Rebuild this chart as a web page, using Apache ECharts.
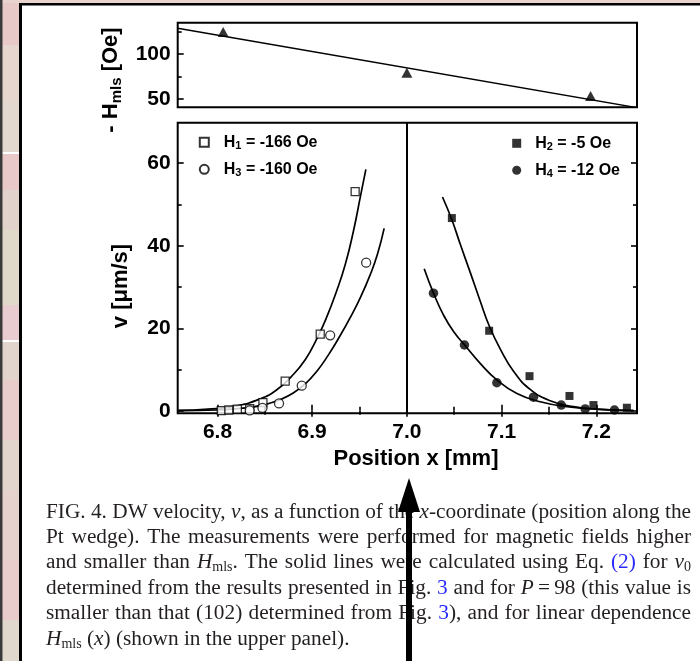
<!DOCTYPE html>
<html><head><meta charset="utf-8">
<script src="https://cdn.jsdelivr.net/npm/echarts@6/dist/echarts.min.js"></script>
<style>html,body{margin:0;padding:0;background:#fff}#c{width:700px;height:661px}</style>
</head><body><div id="c"></div>
<script>
// ---------------- data ----------------
const xRange = [6.758, 7.243];
const xTicks = [6.8, 6.9, 7.0, 7.1, 7.2];
const xMinorTicks = [6.85, 6.95, 7.05, 7.15];
const vRange = [-0.6, 69.8];
const vTicks = [0, 20, 40, 60];
const vMinorTicks = [10, 30, 50];
const hRange = [40.8, 134.8];
const hTicks = [50, 100];
const hMinorTicks = [75, 125];

// upper panel: -Hmls(x)
const hmlsX = [6.806, 7.0, 7.194];
const hmlsY = [124.5, 79.2, 53.3];
const hmlsLineX = [6.758, 7.243];
const hmlsLineY = [128.6, 40.4];

// lower panel: measured velocities
const h1X = [6.804, 6.812, 6.821, 6.834, 6.848, 6.8715, 6.9085, 6.9454];
const h1Y = [0.05, 0.2, 0.4, 0.5, 2.0, 7.2, 18.6, 53.1];
const h3X = [6.834, 6.8475, 6.865, 6.889, 6.919, 6.957];
const h3Y = [0.1, 0.7, 1.8, 6.1, 18.3, 35.9];
const h2X = [7.0475, 7.0869, 7.1295, 7.1717, 7.197, 7.2323];
const h2Y = [46.7, 19.4, 8.4, 3.6, 1.4, 0.75];
const h4X = [7.0281, 7.0608, 7.095, 7.1337, 7.163, 7.1883, 7.2192];
const h4Y = [28.5, 15.95, 6.8, 3.3, 1.4, 0.45, 0.2];

// calculated curves
const c1X = [6.7588, 6.79, 6.82, 6.845, 6.862, 6.878, 6.893, 6.905, 6.915, 6.925, 6.935, 6.944, 6.951, 6.9567];
const c1Y = [0.1, 0.4, 1.2, 2.9, 5.0, 8.3, 12.5, 17.5, 22.5, 28.5, 35.5, 44, 52, 58.5];
const c3X = [6.7588, 6.80, 6.83, 6.85, 6.866, 6.88, 6.893, 6.905, 6.917, 6.929, 6.94, 6.951, 6.961, 6.969, 6.976];
const c3Y = [0.05, 0.2, 0.7, 1.5, 2.7, 4.3, 6.6, 9.6, 13.5, 18.0, 22.5, 27.5, 32.8, 38.0, 44.2];
const c2X = [7.0376, 7.0475, 7.0563, 7.0668, 7.0774, 7.0869, 7.0985, 7.1126, 7.1302, 7.1513, 7.1759, 7.2041, 7.2393];
const c2Y = [51.8, 46.3, 40.4, 33.6, 26.6, 20.6, 15.0, 9.6, 5.2, 2.45, 1.0, 0.36, 0.03];
const c4X = [7.0183, 7.0281, 7.0387, 7.0493, 7.0608, 7.0774, 7.095, 7.1162, 7.1408, 7.169, 7.2041, 7.2393];
const c4Y = [34.4, 28.5, 23.2, 19.2, 16.0, 11.5, 7.5, 4.2, 2.2, 1.0, 0.36, 0.03];

const legendNames = ['H1', 'H3', 'H2', 'H4'];
const legendLabels = ['H{s|1} = -166 Oe', 'H{s|3} = -160 Oe', 'H{s|2} = -5 Oe', 'H{s|4} = -12 Oe'];
const dividerX = 7.0;

const captionLines = [
  'FIG. 4. DW velocity, *v*, as a function of the *x*-coordinate (position along the',
  'Pt wedge). The measurements were performed for magnetic fields higher',
  'and smaller than *H*_mls_. The solid lines were calculated using Eq. {(2)} for *v*_0_',
  'determined from the results presented in Fig. {3} and for *P*\u2009=\u200998 (this value is',
  'smaller than that (102) determined from Fig. {3}), and for linear dependence',
  '*H*_mls_ (*x*) (shown in the upper panel).'
];

// ---------------- helpers ----------------
const zip = (a, b) => a.map((v, i) => [v, b[i]]);
const SANS = '"Liberation Sans", Arial, sans-serif';
const SERIF = '"Liberation Serif", "Times New Roman", serif';
const labelFont = { fontFamily: SANS, fontWeight: 'bold', fontSize: 21, color: '#000' };

function axis(o) {
  return {
    type: 'value', gridIndex: o.grid, position: o.pos, min: o.range[0], max: o.range[1],
    axisLine: { show: false }, splitLine: { show: false },
    axisTick: { show: true, inside: true, length: o.len, customValues: o.ticks,
      lineStyle: { color: '#000', width: 1.6 } },
    axisLabel: { show: !!o.labels, customValues: o.ticks, margin: o.margin || 8,
      formatter: o.fmt, ...labelFont }
  };
}

const grids = [
  { left: 177.7, top: 22.7, width: 459.3, height: 84.6 },
  { left: 177.7, top: 122.7, width: 459.3, height: 290.6 }
].map(g => ({ ...g, show: true, borderColor: '#000', borderWidth: 2, backgroundColor: 'transparent' }));

const xAxes = [
  axis({ grid: 1, pos: 'bottom', range: xRange, ticks: xTicks, len: 6, labels: true, margin: 8, fmt: v => v.toFixed(1) }),
  axis({ grid: 1, pos: 'bottom', range: xRange, ticks: xMinorTicks, len: 4 }),
  axis({ grid: 1, pos: 'top', range: xRange, ticks: xTicks, len: 6 }),
  axis({ grid: 1, pos: 'top', range: xRange, ticks: xMinorTicks, len: 4 }),
  { type: 'value', gridIndex: 0, min: xRange[0], max: xRange[1], show: false }
];
const yAxes = [
  axis({ grid: 1, pos: 'left', range: vRange, ticks: vTicks, len: 6, labels: true, margin: 7, fmt: v => String(v) }),
  axis({ grid: 1, pos: 'left', range: vRange, ticks: vMinorTicks, len: 4 }),
  axis({ grid: 1, pos: 'right', range: vRange, ticks: vTicks, len: 6 }),
  axis({ grid: 1, pos: 'right', range: vRange, ticks: vMinorTicks, len: 4 }),
  axis({ grid: 0, pos: 'left', range: hRange, ticks: hTicks, len: 6, labels: true, margin: 7, fmt: v => String(v) }),
  axis({ grid: 0, pos: 'left', range: hRange, ticks: hMinorTicks, len: 4 })
];

const openStyle = { color: '#fff', borderColor: '#000', borderWidth: 1.3 };
const fillStyle = { color: '#000', borderColor: '#000', borderWidth: 0 };
function scatter(name, xs, ys, symbol, size, style) {
  return { type: 'scatter', name, xAxisIndex: 0, yAxisIndex: 0, data: zip(xs, ys),
    symbol, symbolSize: size, itemStyle: style, z: 5, silent: true };
}
function curve(name, xs, ys, xi, yi, w) {
  return { type: 'line', name, xAxisIndex: xi, yAxisIndex: yi, data: zip(xs, ys),
    showSymbol: false, smooth: 0.5,
    lineStyle: { color: '#000', width: w }, z: 3, silent: true };
}

const series = [
  curve('c1', c1X, c1Y, 0, 0, 1.7),
  curve('c3', c3X, c3Y, 0, 0, 1.7),
  curve('c2', c2X, c2Y, 0, 0, 1.7),
  curve('c4', c4X, c4Y, 0, 0, 1.7),
  Object.assign(scatter('H1', h1X, h1Y, 'rect', 8, openStyle), {
    markLine: { silent: true, symbol: ['none', 'none'], label: { show: false },
      lineStyle: { color: '#000', width: 2, type: 'solid' }, data: [{ xAxis: dividerX }] }
  }),
  scatter('H3', h3X, h3Y, 'circle', 9, openStyle),
  scatter('H2', h2X, h2Y, 'rect', 8, fillStyle),
  scatter('H4', h4X, h4Y, 'circle', 9.5, fillStyle),
  curve('hline', hmlsLineX, hmlsLineY, 4, 4, 1.4),
  { type: 'scatter', name: 'Hmls', xAxisIndex: 4, yAxisIndex: 4, data: zip(hmlsX, hmlsY),
    symbol: 'triangle', symbolSize: [11, 10], itemStyle: fillStyle, z: 5, silent: true }
];

function legend(names, left, top, pad) {
  return {
    data: names, left, top, orient: 'vertical', selectedMode: false, padding: 0,
    itemWidth: 9, itemHeight: 9, itemGap: 9,
    formatter: n => legendLabels[legendNames.indexOf(n)],
    textStyle: { fontFamily: SANS, fontWeight: 'bold', fontSize: 16, color: '#000', lineHeight: 18,
      padding: [0, 0, 0, pad],
      rich: { s: { fontFamily: SANS, fontWeight: 'bold', fontSize: 11, verticalAlign: 'bottom', lineHeight: 10 } } }
  };
}

// ---------------- graphics (page frame, axis titles, caption, arrow) ----------------
const graphics = [];
const stripes = [[0, 45, '#e7c9c7'], [45, 100, '#e6d6cd'], [100, 152, '#e2d8d0'], [152, 190, '#e8c8c8'],
  [190, 230, '#e2d2cc'], [230, 305, '#e0d8c8'], [305, 340, '#e8ccd0'], [340, 380, '#e0d4cc'],
  [380, 440, '#e8cccc'], [440, 490, '#e2d6cc'], [490, 560, '#e6d2cc'], [560, 620, '#e8cccc'], [620, 661, '#e0d8cc']];
stripes.forEach(s => graphics.push({ type: 'rect', shape: { x: 2, y: s[0], width: 17, height: s[1] - s[0] },
  style: { fill: s[2] }, silent: true }));
[152, 340].forEach(y => graphics.push({ type: 'rect', shape: { x: 2, y: y, width: 17, height: 2 }, style: { fill: '#fff' }, silent: true }));
graphics.push({ type: 'rect', shape: { x: 0, y: 0, width: 700, height: 3 }, style: { fill: '#e9d3cf' }, silent: true });
graphics.push({ type: 'rect', shape: { x: 0, y: 0, width: 2.5, height: 661 }, style: { fill: '#3a3a3a' }, silent: true });
graphics.push({ type: 'rect', shape: { x: 19, y: 3, width: 3, height: 658 }, style: { fill: '#000' }, silent: true });
graphics.push({ type: 'rect', shape: { x: 19, y: 3, width: 681, height: 2.5 }, style: { fill: '#000' }, silent: true });

// axis titles
const titleRich = { s: { fontFamily: SANS, fontWeight: 'bold', fontSize: 15, verticalAlign: 'bottom', lineHeight: 15 } };
graphics.push({ type: 'text', x: 111, y: 80, rotation: Math.PI / 2, silent: true,
  style: { text: '- H{s|mls} [Oe]', align: 'center', verticalAlign: 'middle', fontFamily: SANS,
    fontWeight: 'bold', fontSize: 22, lineHeight: 26, fill: '#000', rich: titleRich } });
graphics.push({ type: 'text', x: 121, y: 286, rotation: Math.PI / 2, silent: true,
  style: { text: 'v [\u03bcm/s]', align: 'center', verticalAlign: 'middle', fontFamily: SANS,
    fontWeight: 'bold', fontSize: 22, fill: '#000' } });
graphics.push({ type: 'text', x: 416, y: 459, silent: true,
  style: { text: 'Position x [mm]', align: 'center', verticalAlign: 'middle', fontFamily: SANS,
    fontWeight: 'bold', fontSize: 22, fill: '#000' } });

// caption, justified
(function () {
  const capLeft = 46, capRight = 691, firstMid = 512, step = 25.4;
  const ctx = document.createElement('canvas').getContext('2d');
  const re = /\*([^*]+)\*|_([^_]+)_|\{([^}]+)\}|([^*_{}]+)/g;
  function fontsFor(F) {
    const S = Math.round(F * 0.68);
    return { n: `${F}px ${SERIF}`, i: `italic ${F}px ${SERIF}`, s: `${S}px ${SERIF}`, b: `${F}px ${SERIF}` };
  }
  function measureLine(line, fonts) {
    return line.split(' ').map(w => {
      let m, txt = '', width = 0; re.lastIndex = 0;
      while ((m = re.exec(w))) {
        const key = m[1] ? 'i' : m[2] ? 's' : m[3] ? 'b' : 'n';
        const t = m[1] || m[2] || m[3] || m[4];
        ctx.font = fonts[key]; width += ctx.measureText(t).width;
        txt += '{' + key + '|' + t + '}';
      }
      return { txt, width };
    });
  }
  let F = 19;
  {
    const f = fontsFor(F); const ws = measureLine(captionLines[0], f);
    ctx.font = f.n; const sp = ctx.measureText(' ').width;
    const nat = ws.reduce((a, w) => a + w.width, 0) + sp * (ws.length - 1);
    F = Math.round(F * (capRight - capLeft) / nat * 10) / 10;
  }
  const fonts = fontsFor(F);
  const S = Math.round(F * 0.68);
  const LH = Math.round(F * 1.15);
  const col = '#231f20';
  const rich = {
    n: { fontFamily: SERIF, fontSize: F, fill: col, lineHeight: LH },
    i: { fontFamily: SERIF, fontSize: F, fontStyle: 'italic', fill: col, lineHeight: LH },
    s: { fontFamily: SERIF, fontSize: S, fill: col, verticalAlign: 'bottom', lineHeight: S },
    b: { fontFamily: SERIF, fontSize: F, fill: '#2a2aff', lineHeight: LH }
  };
  captionLines.forEach((line, li) => {
    const words = measureLine(line, fonts);
    const sum = words.reduce((a, w) => a + w.width, 0);
    const last = li === captionLines.length - 1;
    ctx.font = fonts.n;
    const gap = last ? ctx.measureText(' ').width : (capRight - capLeft - sum) / (words.length - 1);
    let x = capLeft;
    const y = firstMid + li * step;
    words.forEach(w => {
      graphics.push({ type: 'text', x, y, silent: true, z: 10,
        style: { text: w.txt, rich, align: 'left', verticalAlign: 'middle', fontFamily: SERIF, fontSize: F, lineHeight: LH } });
      x += w.width + gap;
    });
  });
})();

// arrow
graphics.push({ type: 'rect', z: 50, shape: { x: 406, y: 505, width: 6, height: 160 }, style: { fill: '#000' }, silent: true });
graphics.push({ type: 'polygon', z: 50, shape: { points: [[409, 478], [398, 512], [420, 512]] }, style: { fill: '#000' }, silent: true });

const chart = echarts.init(document.getElementById('c'), null, { renderer: 'canvas' });
chart.setOption({
  animation: false,
  grid: grids,
  xAxis: xAxes,
  yAxis: yAxes,
  legend: [legend(['H1', 'H3'], 198.8, 133.3, 10), legend(['H2', 'H4'], 512.2, 134.3, 9)],
  series,
  graphic: { elements: graphics }
});
</script></body></html>
